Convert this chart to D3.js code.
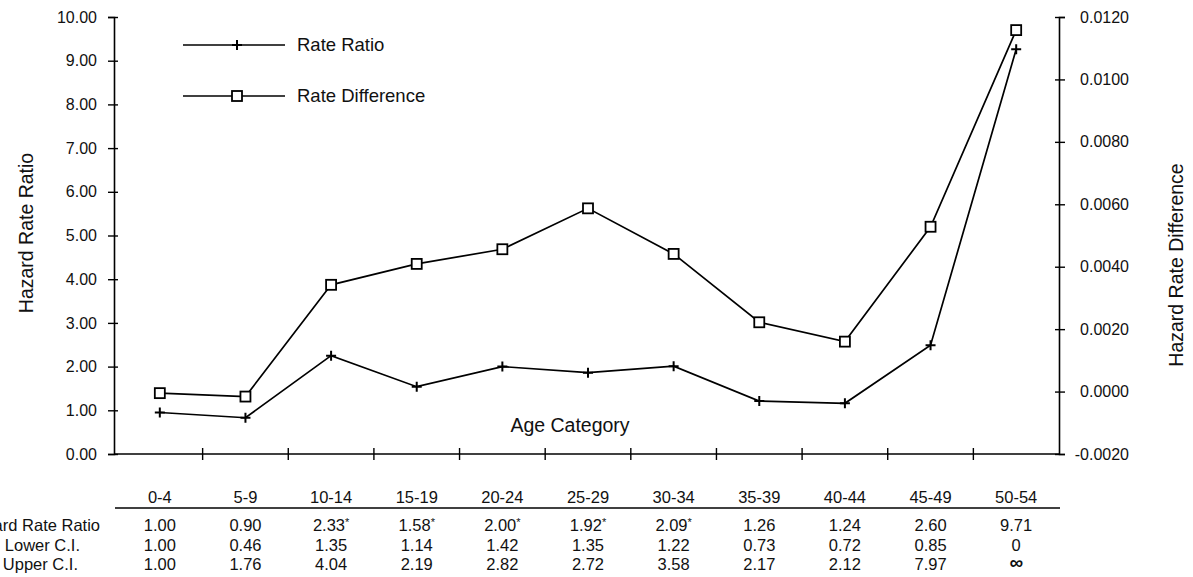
<!DOCTYPE html>
<html>
<head>
<meta charset="utf-8">
<script src="https://cdn.jsdelivr.net/npm/d3@7"></script>
<style>
  body { margin: 0; background: #fff; }
  text { font-family: "Liberation Sans", Arial, Helvetica, sans-serif; fill: #111; }
</style>
</head>
<body>
<div id="chart"></div>
<script>
// age categories and plotted series
const ages = ["0-4", "5-9", "10-14", "15-19", "20-24", "25-29", "30-34", "35-39", "40-44", "45-49", "50-54"];
const rateRatio = [0.95, 0.83, 2.25, 1.54, 2.00, 1.86, 2.01, 1.21, 1.16, 2.49, 9.26];
const rateDiff = [-0.00005, -0.00016, 0.00342, 0.00409, 0.00456, 0.00587, 0.00441, 0.00222, 0.00160, 0.00528, 0.01158];

// table under the chart
const tableRatio = ["1.00", "0.90", "2.33*", "1.58*", "2.00*", "1.92*", "2.09*", "1.26", "1.24", "2.60", "9.71"];
const tableLower = ["1.00", "0.46", "1.35", "1.14", "1.42", "1.35", "1.22", "0.73", "0.72", "0.85", "0"];
const tableUpper = ["1.00", "1.76", "4.04", "2.19", "2.82", "2.72", "3.58", "2.17", "2.12", "7.97", "∞"];
const rowLabels = ["Hazard Rate Ratio", "Lower C.I.", "Upper C.I."];

const leftTicks = d3.range(0, 10.5, 1);
const rightTicks = d3.range(-0.002, 0.0121, 0.002);

const width = 1193, height = 577;
const axisLeftX = 114, axisRightX = 1059, plotTop = 17, plotBottom = 454;

const svg = d3.select("#chart").append("svg")
    .attr("width", width)
    .attr("height", height)
    .attr("viewBox", [0, 0, width, height]);

const x = d3.scaleBand().domain(ages).range([117, 1059]);
const cx = d => x(d) + x.bandwidth() / 2;
const yL = d3.scaleLinear().domain([0, 10]).range([plotBottom, plotTop]);
const yR = d3.scaleLinear().domain([-0.002, 0.012]).range([plotBottom, plotTop]);

// left axis
svg.append("g")
    .attr("transform", `translate(${axisLeftX},0)`)
    .call(d3.axisLeft(yL).tickValues(leftTicks).tickFormat(d3.format(".2f")).tickSizeOuter(0).tickSize(6).tickPadding(11))
    .call(g => g.select(".domain").attr("stroke-width", 1.6))
    .call(g => g.selectAll(".tick line").attr("x1", 4).attr("stroke-width", 1.4))
    .call(g => g.selectAll(".tick text").attr("font-size", 16).attr("font-family", null));

// right axis
svg.append("g")
    .attr("transform", `translate(${axisRightX},0)`)
    .call(d3.axisRight(yR).tickValues(rightTicks)
        .tickFormat(d => d3.format(".4f")(Math.abs(d) < 1e-9 ? 0 : d).replace("−", "-"))
        .tickSizeOuter(0).tickSize(6).tickPadding(0))
    .call(g => g.select(".domain").attr("stroke-width", 1.6))
    .call(g => g.selectAll(".tick line").attr("x1", -4).attr("stroke-width", 1.4))
    .call(g => g.selectAll(".tick text").attr("font-size", 16).attr("font-family", null)
        .attr("text-anchor", "end").attr("x", 70));

// bottom axis with ticks between categories
svg.append("line")
    .attr("x1", axisLeftX).attr("x2", axisRightX)
    .attr("y1", plotBottom).attr("y2", plotBottom)
    .attr("stroke", "#000").attr("stroke-width", 1.6);
svg.append("g").selectAll("line")
    .data(ages.slice(1))
    .join("line")
    .attr("x1", d => x(d)).attr("x2", d => x(d))
    .attr("y1", plotBottom - 6).attr("y2", plotBottom + 6)
    .attr("stroke", "#000").attr("stroke-width", 1.4);

// axis titles
svg.append("text")
    .attr("transform", `translate(33,233) rotate(-90)`)
    .attr("text-anchor", "middle")
    .attr("font-size", 19.5)
    .text("Hazard Rate Ratio");
svg.append("text")
    .attr("transform", `translate(1183,265) rotate(-90)`)
    .attr("text-anchor", "middle")
    .attr("font-size", 19.5)
    .text("Hazard Rate Difference");
svg.append("text")
    .attr("x", 570).attr("y", 432)
    .attr("text-anchor", "middle")
    .attr("font-size", 19.5)
    .text("Age Category");

// markers
const plus = (g, s = 5) => g.append("path")
    .attr("d", `M${-s},0H${s}M0,${-s}V${s}`)
    .attr("stroke", "#000").attr("stroke-width", 2).attr("fill", "none");
const square = (g, s = 5) => g.append("rect")
    .attr("x", -s).attr("y", -s).attr("width", 2 * s).attr("height", 2 * s)
    .attr("fill", "#fff").attr("stroke", "#000").attr("stroke-width", 1.8);

// lines
const lineR = d3.line().x((d, i) => cx(ages[i])).y(d => yL(d));
const lineD = d3.line().x((d, i) => cx(ages[i])).y(d => yR(d));

svg.append("path").datum(rateRatio)
    .attr("d", lineR).attr("fill", "none").attr("stroke", "#000").attr("stroke-width", 1.7);
svg.append("path").datum(rateDiff)
    .attr("d", lineD).attr("fill", "none").attr("stroke", "#000").attr("stroke-width", 1.7);

svg.append("g").selectAll("g")
    .data(rateRatio)
    .join("g")
    .attr("transform", (d, i) => `translate(${cx(ages[i])},${yL(d)})`)
    .each(function () { plus(d3.select(this)); });

svg.append("g").selectAll("g")
    .data(rateDiff)
    .join("g")
    .attr("transform", (d, i) => `translate(${cx(ages[i])},${yR(d)})`)
    .each(function () { square(d3.select(this)); });

// legend
const legend = [
    {name: "Rate Ratio", y: 45, mark: plus},
    {name: "Rate Difference", y: 96, mark: square}
];
legend.forEach(l => {
    const g = svg.append("g").attr("transform", `translate(0,${l.y})`);
    g.append("line").attr("x1", 183).attr("x2", 285).attr("stroke", "#000").attr("stroke-width", 1.7);
    l.mark(g.append("g").attr("transform", "translate(237,0)"));
    g.append("text").attr("x", 297).attr("dy", "0.35em").attr("font-size", 18.5).text(l.name);
});

// table
const table = svg.append("g");
table.selectAll(".head")
    .data(ages)
    .join("text")
    .attr("class", "head")
    .attr("x", cx).attr("y", 503)
    .attr("text-anchor", "middle")
    .attr("font-size", 16.5)
    .text(d => d);
table.append("line")
    .attr("x1", 115).attr("x2", 1060).attr("y1", 508).attr("y2", 508)
    .attr("stroke", "#000").attr("stroke-width", 1.7);

const rows = [tableRatio, tableLower, tableUpper];
const rowY = [531, 551, 570];
const labelEnd = [100, 80, 78];
rows.forEach((row, r) => {
    table.append("text")
        .attr("x", labelEnd[r]).attr("y", rowY[r])
        .attr("text-anchor", "end")
        .attr("font-size", 16.5)
        .text(rowLabels[r]);
    table.append("g").selectAll("text")
        .data(row)
        .join("text")
        .attr("x", (d, i) => cx(ages[i]))
        .attr("y", d => d === "∞" ? rowY[r] - 1 : rowY[r])
        .attr("text-anchor", "middle")
        .attr("font-size", d => d === "∞" ? 19 : 16.5)
        .attr("font-weight", d => d === "∞" ? "bold" : null)
        .each(function (d) {
            const t = d3.select(this);
            if (d.endsWith("*")) {
                t.append("tspan").text(d.slice(0, -1));
                t.append("tspan").attr("font-size", 11).attr("dy", -5).text("*");
            } else {
                t.text(d);
            }
        });
});
</script>
</body>
</html>
